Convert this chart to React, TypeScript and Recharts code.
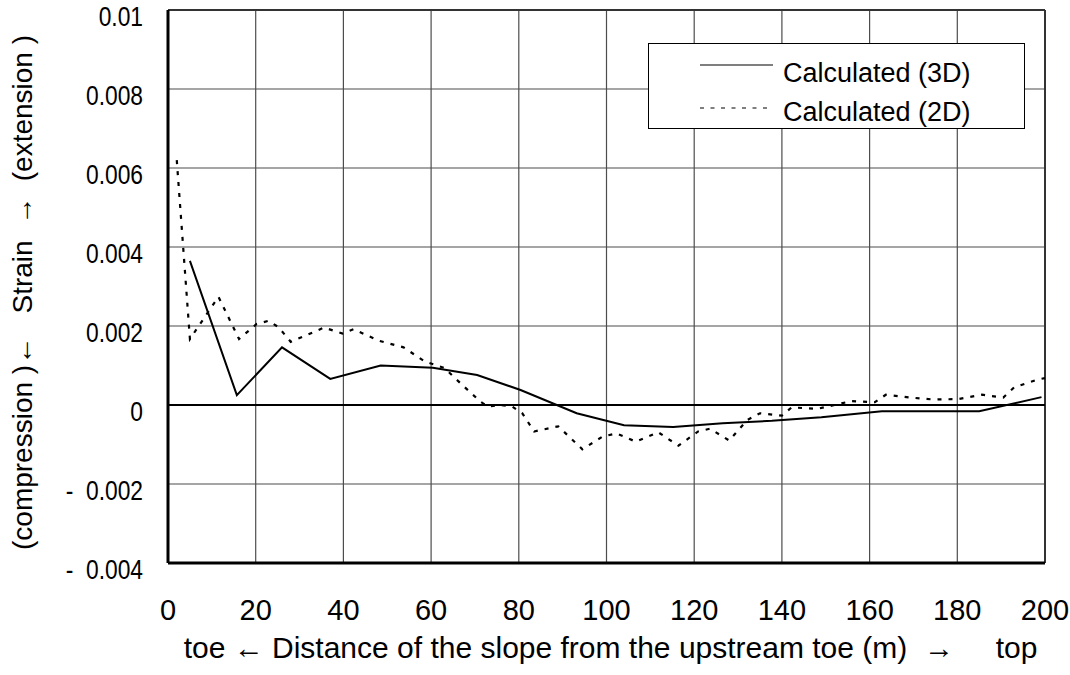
import {
  LineChart,
  Line,
  XAxis,
  YAxis,
  CartesianGrid,
  ReferenceLine,
  Legend,
} from "recharts";

const FONT = "'Liberation Sans', Arial, sans-serif";

// axis ticks
const xTicks = [0, 20, 40, 60, 80, 100, 120, 140, 160, 180, 200];
const yTicks = [-0.004, -0.002, 0, 0.002, 0.004, 0.006, 0.008, 0.01];
const yTickLabels = ["-  0.004", "-  0.002", "0", "0.002", "0.004", "0.006", "0.008", "0.01"];

// 3D analysis
const dist3d = [5, 15.7, 26, 37, 48.5, 60.4, 70.5, 80.4, 93.2, 104, 115.2, 126.5, 137.7, 149, 162.8, 185, 199.2];
const strain3d = [
  0.00365, 0.00025, 0.00146, 0.00066, 0.001, 0.00094, 0.00076, 0.00038, -0.00021, -0.00051, -0.00056,
  -0.00046, -0.0004, -0.00031, -0.00016, -0.00016, 0.0002,
];

// 2D analysis
const dist2d = [
  2, 5, 11.5, 16.2, 20.2, 22.9, 25.2, 28, 35.6, 39.8, 42.3, 48, 53.7, 58.6, 63, 66.7, 71.3, 73, 75.9, 78.5,
  80.8, 83.5, 89, 94.5, 99.1, 102.3, 106.7, 111.8, 116.4, 120.9, 123.6, 128, 132.1, 135, 140, 142.2, 148,
  153.2, 155.9, 161.2, 163.7, 169.2, 174.5, 180.2, 185.6, 190.5, 193, 198.5, 200,
];
const strain2d = [
  0.0062, 0.00167, 0.00274, 0.00167, 0.00205, 0.00213, 0.00197, 0.0016, 0.00196, 0.00181, 0.00192, 0.00163,
  0.00146, 0.0011, 0.00094, 0.00055, 0.00008, -0.00004, 0, -0.00004, -0.00021, -0.00067, -0.00054, -0.00112,
  -0.0008, -0.00072, -0.00093, -0.00069, -0.00103, -0.00067, -0.0006, -0.0009, -0.00038, -0.00021, -0.00027,
  -0.00006, -0.0001, 0.00003, 0.0001, 0.00007, 0.00026, 0.00019, 0.00014, 0.00015, 0.00026, 0.00019, 0.00045,
  0.00065, 0.00068,
];

const seriesNames = ["Calculated (3D)", "Calculated (2D)"];
const xTitle = "toe \u2190 Distance of the slope from the upstream toe (m)  \u2192     top";
const yTitle = "(compression )\u2190   Strain  \u2192  (extension )";

const data3d = dist3d.map((x, i) => ({ x, y: strain3d[i] }));
const data2d = dist2d.map((x, i) => ({ x, y: strain2d[i] }));

const DASH = "4 7";

const XTick = (props: any) => {
  const { x, y, payload } = props;
  return (
    <text x={x} y={y + 47} textAnchor="middle" dominantBaseline="central" fontFamily={FONT} fontSize={29} fill="#000">
      {payload.value}
    </text>
  );
};

// y labels are set in a narrow face: squeeze horizontally around the anchor
const YTick = (props: any) => {
  const { x, y, payload } = props;
  const idx = yTicks.indexOf(payload.value);
  return (
    <text
      transform={`translate(${x - 25}, ${y + 6}) scale(0.8, 1)`}
      textAnchor="end"
      dominantBaseline="central"
      fontFamily={FONT}
      fontSize={28.5}
      fill="#000"
      style={{ whiteSpace: "pre" }}
    >
      {idx >= 0 ? yTickLabels[idx] : payload.value}
    </text>
  );
};

const XTitle = (props: any) => {
  const vb = props.viewBox;
  return (
    <text x={vb.x + vb.width / 2 + 4} y={vb.y + 84} textAnchor="middle" dominantBaseline="central" fontFamily={FONT} fontSize={30} fill="#000" style={{ whiteSpace: "pre" }}>
      {xTitle}
    </text>
  );
};

const YTitle = (props: any) => {
  const vb = props.viewBox;
  const cx = vb.x + 22;
  const cy = vb.y + vb.height / 2 + 6;
  return (
    <text x={cx} y={cy} transform={`rotate(-90, ${cx}, ${cy})`} textAnchor="middle" dominantBaseline="central" fontFamily={FONT} fontSize={28} fill="#000" style={{ whiteSpace: "pre" }}>
      {yTitle}
    </text>
  );
};

const LegendBox = () => (
  <div style={{ width: 377, height: 86, border: "1px solid #000", background: "#fff", boxSizing: "border-box" }}>
    <svg width={375} height={84}>
      <line x1={51} x2={124} y1={21} y2={21} stroke="#000" strokeWidth={1.2} />
      <text x={134} y={29} dominantBaseline="central" fontFamily={FONT} fontSize={27} fill="#000">
        {seriesNames[0]}
      </text>
      <line x1={51} x2={124} y1={64} y2={64} stroke="#000" strokeWidth={1.2} strokeDasharray="4 6.5" />
      <text x={134} y={68} dominantBaseline="central" fontFamily={FONT} fontSize={27} fill="#000">
        {seriesNames[1]}
      </text>
    </svg>
  </div>
);

export default function App() {
  return (
    <div style={{ position: "absolute", left: 0, top: 0, background: "#fff" }}>
      <LineChart width={1070} height={675} margin={{ top: 10, right: 25, bottom: 0, left: 0 }}>
        <CartesianGrid stroke="#4d4d4d" strokeWidth={1.2} />
        <XAxis
          type="number"
          dataKey="x"
          domain={[0, 200]}
          ticks={xTicks}
          interval={0}
          height={112}
          tickLine={false}
          tickSize={0}
          tickMargin={0}
          axisLine={{ stroke: "#000", strokeWidth: 3 }}
          tick={<XTick />}
          label={<XTitle />}
        />
        <YAxis
          type="number"
          dataKey="y"
          domain={[-0.004, 0.01]}
          ticks={yTicks}
          interval={0}
          width={168}
          tickLine={false}
          tickSize={0}
          tickMargin={0}
          axisLine={{ stroke: "#000", strokeWidth: 3 }}
          tick={<YTick />}
          label={<YTitle />}
        />
        <ReferenceLine y={0.01} stroke="#333" strokeWidth={2} />
        <ReferenceLine x={200} stroke="#333" strokeWidth={2} />
        <ReferenceLine y={0} stroke="#000" strokeWidth={2} />
        <Legend
          layout="horizontal"
          verticalAlign="middle"
          align="center"
          content={<LegendBox />}
          wrapperStyle={{ position: "absolute", left: 648, top: 43, width: 377, height: 86 }}
        />
        <Line
          data={data3d}
          dataKey="y"
          name={seriesNames[0]}
          type="linear"
          stroke="#000"
          strokeWidth={2}
          dot={false}
          isAnimationActive={false}
        />
        <Line
          data={data2d}
          dataKey="y"
          name={seriesNames[1]}
          type="linear"
          stroke="#000"
          strokeWidth={2.2}
          strokeDasharray={DASH}
          dot={false}
          isAnimationActive={false}
        />
      </LineChart>
    </div>
  );
}
